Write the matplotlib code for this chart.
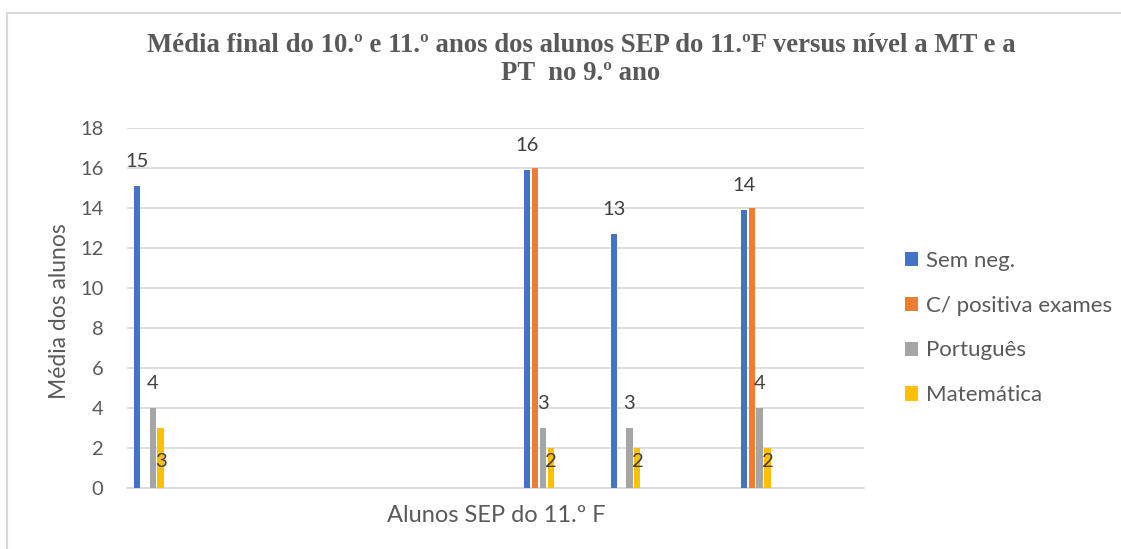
import numpy as np
import matplotlib
matplotlib.use("Agg")
import matplotlib.pyplot as plt
from matplotlib.patches import Rectangle, Patch

# 17 alunos on the x axis, only some have values
n_alunos = 17
alunos = list(range(n_alunos))
nan = np.nan

sem_neg = [15.1, nan, nan, nan, nan, nan, nan, nan, nan, 15.9, nan, 12.7, nan, nan, 13.9, nan, nan]
c_positiva = [nan, nan, nan, nan, nan, nan, nan, nan, nan, 16.0, nan, nan, nan, nan, 14.0, nan, nan]
portugues = [4, nan, nan, nan, nan, nan, nan, nan, nan, 3, nan, 3, nan, nan, 4, nan, nan]
matematica = [3, nan, nan, nan, nan, nan, nan, nan, nan, 2, nan, 2, nan, nan, 2, nan, nan]

series_names = ["Sem neg.", "C/ positiva exames", "Português", "Matemática"]
colors = ["#4472C4", "#ED7D31", "#A5A5A5", "#FFC000"]
title_lines = ["Média final do 10.º e 11.º anos dos alunos SEP do 11.ºF versus nível a MT e a",
               "PT  no 9.º ano"]

plt.rcParams['font.family'] = ['Lato', 'DejaVu Sans']

W, H = 1121, 549
fig = plt.figure(figsize=(W / 100, H / 100), dpi=100)
ax = fig.add_axes([127 / W, 1 - 487.7 / H, 737 / W, 360 / H])

# outer chart border (light gray)
fig.patches.append(Rectangle((6.5 / W, -0.1), 1.2, 1 - 13 / H + 0.1,
                             transform=fig.transFigure, fill=False,
                             edgecolor="#d9d9d9", linewidth=1.5))

slot = 1 / 5.5  # excel gap width 150%
x = np.array(alunos, dtype=float)
all_series = [sem_neg, c_positiva, portugues, matematica]
for k, (vals, col) in enumerate(zip(all_series, colors)):
    pos = x + (k - 1.5) * slot
    ax.bar(pos, vals, width=slot * 0.78, color=col, zorder=3)
    for px, v in zip(pos, vals):
        if np.isnan(v):
            continue
        if k == 0 or k == 2:
            ax.annotate(f"{v:.0f}", (px, v), xytext=(0, 17.5), textcoords="offset points",
                        ha="center", va="center", fontsize=14.5, color="#404040")
        elif k == 3:
            ax.annotate(f"{v:.0f}", (px, 0), xytext=(0, 19), textcoords="offset points",
                        ha="center", va="center", fontsize=14.5, color="#404040")

ax.set_xlim(-0.5, n_alunos - 0.5)
ax.set_ylim(0, 18)
ax.set_yticks(range(0, 19, 2))
ax.set_xticks([])
ax.grid(axis="y", color="#d9d9d9", linewidth=1.2, zorder=0)
for s in ["top", "right", "left"]:
    ax.spines[s].set_visible(False)
ax.spines["bottom"].set_color("#d9d9d9")
ax.spines["bottom"].set_linewidth(1.2)
ax.tick_params(axis="y", length=0, labelsize=14.5, labelcolor="#595959", pad=17)

# axis titles
fig.text(59 / W, 1 - 311 / H, "Média dos alunos", rotation=90, ha="center", va="center",
         fontsize=16.5, color="#595959")
fig.text(496 / W, 1 - 516 / H, "Alunos SEP do 11.º F", ha="center", va="center",
         fontsize=17, color="#595959")

# chart title, two lines
for line, base in zip(title_lines, [51.5, 79.5]):
    fig.text(581 / W, 1 - base / H, line, ha="center", va="baseline", fontsize=19.3,
             fontweight="bold", color="#595959", family="Liberation Serif")

handles = [Patch(facecolor=c, edgecolor="none") for c in colors]
fig.legend(handles, series_names, loc="center left", bbox_to_anchor=(905 / W, 1 - 328 / H),
           frameon=False, fontsize=16, labelcolor="#595959", labelspacing=1.12,
           handlelength=0.6, handleheight=0.6, handletextpad=0.35, borderaxespad=0,
           borderpad=0)

fig.savefig("out.png", dpi=100, facecolor="white")
